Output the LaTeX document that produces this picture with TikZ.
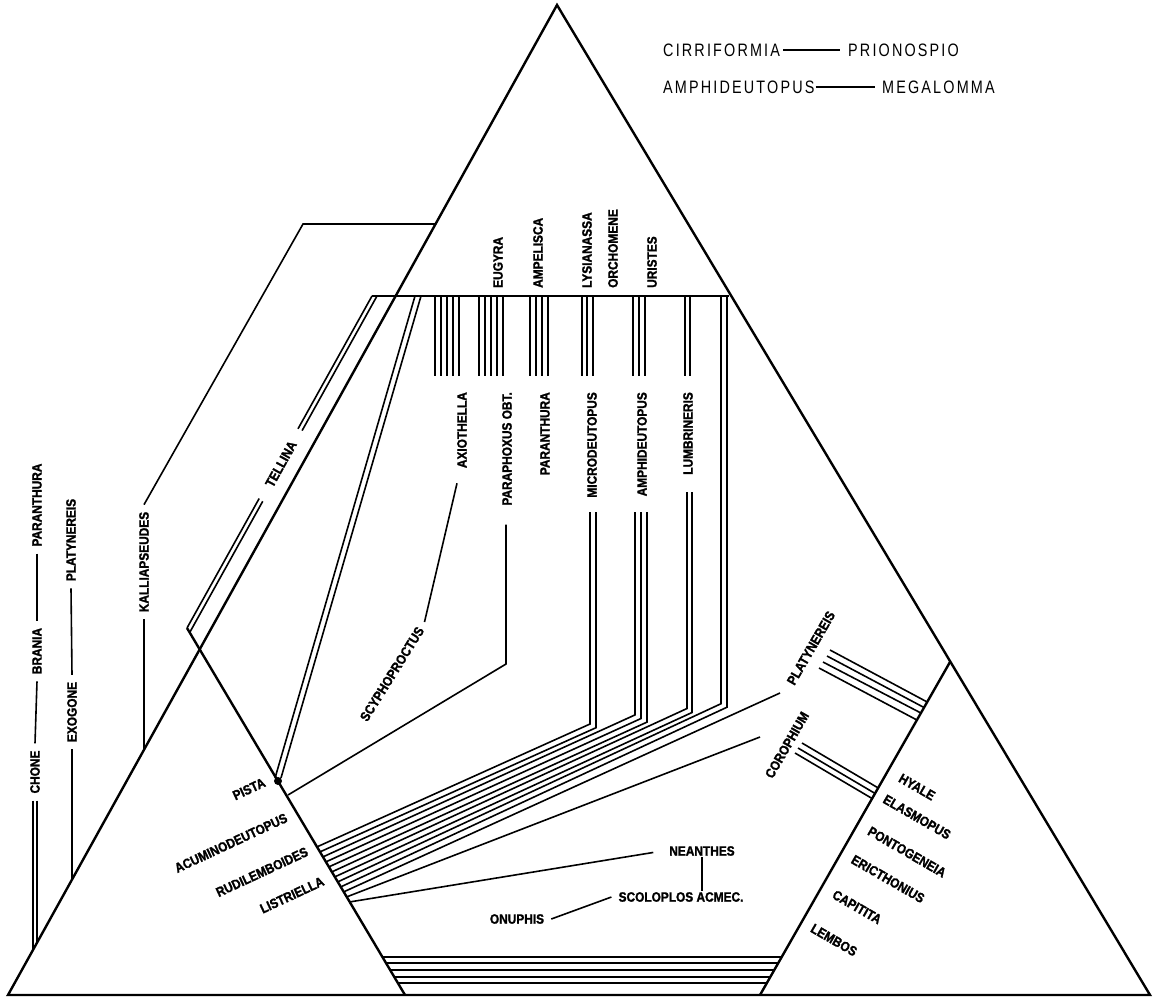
\documentclass[tikz,border=0pt]{standalone}
\usepackage{fontspec}
\setmainfont{Liberation Sans}
\newfontfamily\labfont{Liberation Sans}[FakeStretch=0.88, FakeBold=1.5]
\newfontfamily\legfont{Liberation Sans}[FakeStretch=0.8, LetterSpace=12]
\usetikzlibrary {calc}
\usetikzlibrary {positioning}

\tikzset{
  rim/.style={line width=2.4pt, line join=miter},
  ln/.style={line width=1.6pt, line join=miter},
  lab/.style={font=\labfont\bfseries\fontsize{13.5}{14}\selectfont, inner xsep=7pt, inner ysep=1pt},
  leg/.style={font=\legfont\fontsize{18}{18}\selectfont, inner sep=0pt},
}

\begin{document}
\begin{tikzpicture}[x=1pt,y=-1pt]
\useasboundingbox (0,0) rectangle (1153,999);

\coordinate (apex) at (557,5);
\coordinate (bl) at (8,995);
\coordinate (br) at (1150,995);
\coordinate (rt) at (950,662);
\coordinate (rb) at (760,995);
\coordinate (lt) at (187,628);
\coordinate (lb) at (405,995);
\coordinate (hl) at (372,296);
\coordinate (hr) at (729,296);

\draw[rim] (apex) -- (bl) -- (br) -- cycle;
\draw[rim] (rt) -- (rb);
\draw[rim] (lt) -- (lb);
\draw[rim] (hl) -- (hr);

\node[leg, anchor=west] (cirr) at (663,50) {CIRRIFORMIA};
\node[leg, anchor=west] (prio) at (848,50) {PRIONOSPIO};
\node[leg, anchor=west] (amph) at (663,87) {AMPHIDEUTOPUS};
\node[leg, anchor=west] (mega) at (882,87) {MEGALOMMA};
\draw[ln] ([xshift=3pt]cirr.east) -- ([xshift=-8pt]prio.west);
\draw[ln] ([xshift=1pt]amph.east) -- ([xshift=-7pt]mega.west);

\foreach \nm/\x/\t in {eug/498/EUGYRA, amp/538/AMPELISCA, lys/587/LYSIANASSA, orc/613/ORCHOMENE, uri/652/URISTES}
  \node[lab, rotate=90, anchor=west, inner xsep=0pt] (\nm) at (\x,288) {\t};

\foreach \x in {435,441,447,453,459,479,485,491,497,503,530,536,542,548,582,587,593,633,639,645,685,690}
  \draw[ln] (\x,296) -- (\x,376);

\foreach \nm/\x/\t in {axi/462/AXIOTHELLA, pox/507/PARAPHOXUS OBT., pnt/545/PARANTHURA, mic/592/MICRODEUTOPUS, amd/642/AMPHIDEUTOPUS, lum/688/LUMBRINERIS}
  \node[lab, rotate=90, anchor=east, inner xsep=0pt] (\nm) at (\x,392) {\t};

\node[lab, rotate=58] (scy) at (392,674) {SCYPHOPROCTUS};
\draw[ln] ([shift={(-5,15)}]axi.west) -- (scy.east);

\coordinate (poxb) at (506,664);
\coordinate (poxe) at (288,795);
\draw[ln] ([shift={(-1,19)}]pox.west) -- (poxb) -- (poxe);

\foreach \xv/\ys/\yb/\xe/\ye in {590/512/724/316.7/847, 596/512/727.7/319.7/852, 635/512/714.9/322.7/857, 641/512/718.5/325.6/862, 647/512/722.1/328.6/867, 687/492/708.5/331.6/872, 692/492/712.5/334.5/877, 721/296/703.7/337.5/882, 727/296/707.2/340.5/887}
  \draw[ln] (\xv,\ys) -- (\xv,\yb) -- (\xe,\ye);

\node[lab, rotate=60] (plt) at (811,648) {PLATYNEREIS};
\node[lab, rotate=60] (cor) at (787,745) {COROPHIUM};
\coordinate (pltl) at (780,693);
\coordinate (pltr) at (343.4,892);
\coordinate (corl) at (760,737);
\coordinate (corr) at (346.4,897);
\draw[ln] (pltl) -- (pltr);
\draw[ln] (corl) -- (corr);

\foreach \xa/\ya/\xb/\yb in {830/650/927.2/702, 827/656/924/707.5, 823/662/920.9/713, 819/668/916.9/720, 802/743/878.1/787.9, 798/748/875/793.4, 795/753/872.1/798.5}
  \draw[ln] (\xa,\ya) -- (\xb,\yb);

\foreach \nm/\x/\y/\t in {hya/917/787/HYALE, ela/917/817/ELASMOPUS, pon/907/852/PONTOGENEIA, eri/888/879/ERICTHONIUS, cap/857/907/CAPITITA, lem/834/940/LEMBOS}
  \node[lab, rotate=-30] (\nm) at (\x,\y) {\t};

\foreach \nm/\x/\y/\t in {pis/249/789/PISTA, acu/231/843/ACUMINODEUTOPUS, rud/262/872/RUDILEMBOIDES, lis/292/895/LISTRIELLA}
  \node[lab, rotate=25] (\nm) at (\x,\y) {\t};

\node[circle, fill, inner sep=0pt, minimum size=8pt] (pdot) at (278,781) {};
\coordinate (pa) at (415,296);
\coordinate (pb) at (421,296);
\draw[ln] (pa) -- (pdot.north west);
\draw[ln] (pb) -- (pdot.north east);

\coordinate (ta) at (372,296);
\coordinate (tb) at (187,628);
\coordinate (tc) at (377,296);
\coordinate (td) at (189.7,632.5);
\draw[ln] (ta) -- ($(ta)!0.40!(tb)$) ($(ta)!0.61!(tb)$) -- (tb);
\draw[ln] (tc) -- ($(tc)!0.40!(td)$) ($(tc)!0.61!(td)$) -- (td);
\node[lab, rotate=61] (tel) at (281,464) {TELLINA};

\node[lab] (nean) at (702,851) {NEANTHES};
\node[lab] (scol) at (681,897) {SCOLOPLOS ACMEC.};
\node[lab] (onu) at (517,919) {ONUPHIS};
\coordinate (lis0) at (349.3,902);
\draw[ln, shorten >=9pt] (lis0) -- (nean.west);
\draw[ln] (nean.south) -- (nean.south |- scol.north);
\draw[ln] (onu.east) -- (scol.west);

\foreach \xa/\y/\xb in {381.8/957/781.7, 385.3/963/778.2, 389.5/970/774.2, 393.6/977/770.2, 397.2/983/766.8}
  \draw[ln] (\xa,\y) -- (\xb,\y);

\node[lab, rotate=90] (pnr) at (37,505) {PARANTHURA};
\node[lab, rotate=90] (bra) at (37,651) {BRANIA};
\node[lab, rotate=90] (cho) at (35,772) {CHONE};
\node[lab, rotate=90] (ply) at (71,540) {PLATYNEREIS};
\node[lab, rotate=90] (exo) at (72,712) {EXOGONE};
\node[lab, rotate=90] (kal) at (144,562) {KALLIAPSEUDES};
\coordinate (cho1) at (33,949.9);
\coordinate (cho2) at (37,942.7);
\coordinate (exo1) at (72,879.6);
\coordinate (kal1) at (144,749.7);
\coordinate (kal2) at (303,224);
\coordinate (kal3) at (436,224);
\draw[ln] (pnr.west) -- (bra.east);
\draw[ln] (bra.west) -- (cho.east);
\draw[ln] ([xshift=-2pt]cho.west) -- (cho1);
\draw[ln] ([xshift=2pt]cho.west) -- (cho2);
\draw[ln] (ply.west) -- (exo.east);
\draw[ln] (exo.west) -- (exo1);
\draw[ln] (kal.west) -- (kal1);
\draw[ln] (kal.east) -- (kal2) -- (kal3);
\end{tikzpicture}
\end{document}
